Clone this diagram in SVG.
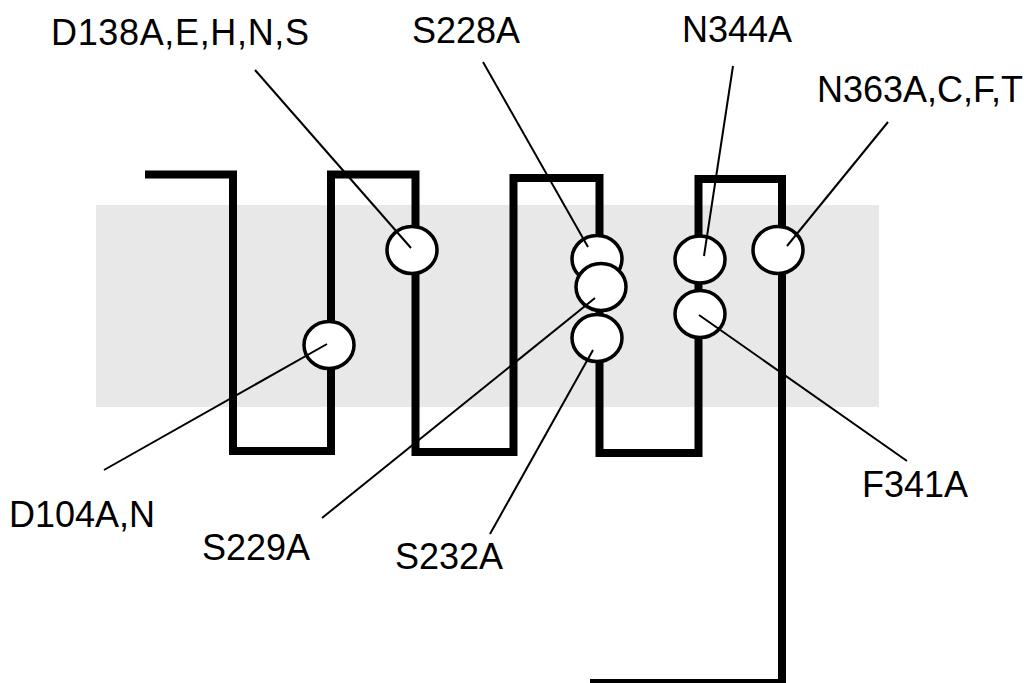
<svg xmlns="http://www.w3.org/2000/svg" width="1034" height="683" viewBox="0 0 1034 683">
<style>
.band{fill:#e8e8e8;stroke:none}
.chain{fill:none;stroke:#000;stroke-width:8;stroke-linejoin:miter;stroke-linecap:butt}
.site{fill:#fff;stroke:#000;stroke-width:3.5}
.lead{stroke:#000;stroke-width:2;fill:none}
.lbl{font-family:"Liberation Sans",Arial,sans-serif;font-size:36px;fill:#000}
</style>
<rect width="1034" height="683" fill="#fff"/>
<rect class="band" x="96" y="205" width="783" height="202"/>
<g id="chain">
<path class="chain" d="M145,174.5 H233 V451 H331 V174.5 H415.5 V452 H513.5 V178 H599.5 V453 H698.5 V179 H782 V683 H590"/>
</g>
<g id="n-D104"><ellipse class="site" cx="329" cy="345" rx="25" ry="23.5"/></g>
<g id="n-D138"><ellipse class="site" cx="412" cy="250" rx="25" ry="23.5"/></g>
<g id="n-S228"><ellipse class="site" cx="597" cy="259" rx="25" ry="23.5"/></g>
<g id="n-S232"><ellipse class="site" cx="597" cy="338" rx="25" ry="23.5"/></g>
<g id="n-S229"><ellipse class="site" cx="601" cy="287" rx="25" ry="23.5"/></g>
<g id="n-N344"><ellipse class="site" cx="700" cy="259.5" rx="25" ry="23.5"/></g>
<g id="n-F341"><ellipse class="site" cx="700" cy="314" rx="25" ry="23.5"/></g>
<g id="n-N363"><ellipse class="site" cx="778" cy="250" rx="25" ry="23.5"/></g>
<g id="connectors">
<line class="lead" x1="104" y1="470" x2="327" y2="344"/>
<line class="lead" x1="255" y1="70" x2="411" y2="248"/>
<line class="lead" x1="483" y1="62" x2="588" y2="247"/>
<line class="lead" x1="322" y1="518" x2="595" y2="298"/>
<line class="lead" x1="490" y1="534" x2="593" y2="350"/>
<line class="lead" x1="733" y1="66" x2="704" y2="256"/>
<line class="lead" x1="907" y1="461" x2="699" y2="315"/>
<line class="lead" x1="888" y1="122" x2="787" y2="246"/>
</g>
<g id="labels">
<text class="lbl" x="51" y="45" textLength="258" lengthAdjust="spacing">D138A,E,H,N,S</text>
<text class="lbl" x="412" y="43">S228A</text>
<text class="lbl" x="682" y="42">N344A</text>
<text class="lbl" x="817" y="102">N363A,C,F,T</text>
<text class="lbl" x="9" y="527">D104A,N</text>
<text class="lbl" x="202" y="560">S229A</text>
<text class="lbl" x="395" y="569">S232A</text>
<text class="lbl" x="862" y="497">F341A</text>
</g>
</svg>
